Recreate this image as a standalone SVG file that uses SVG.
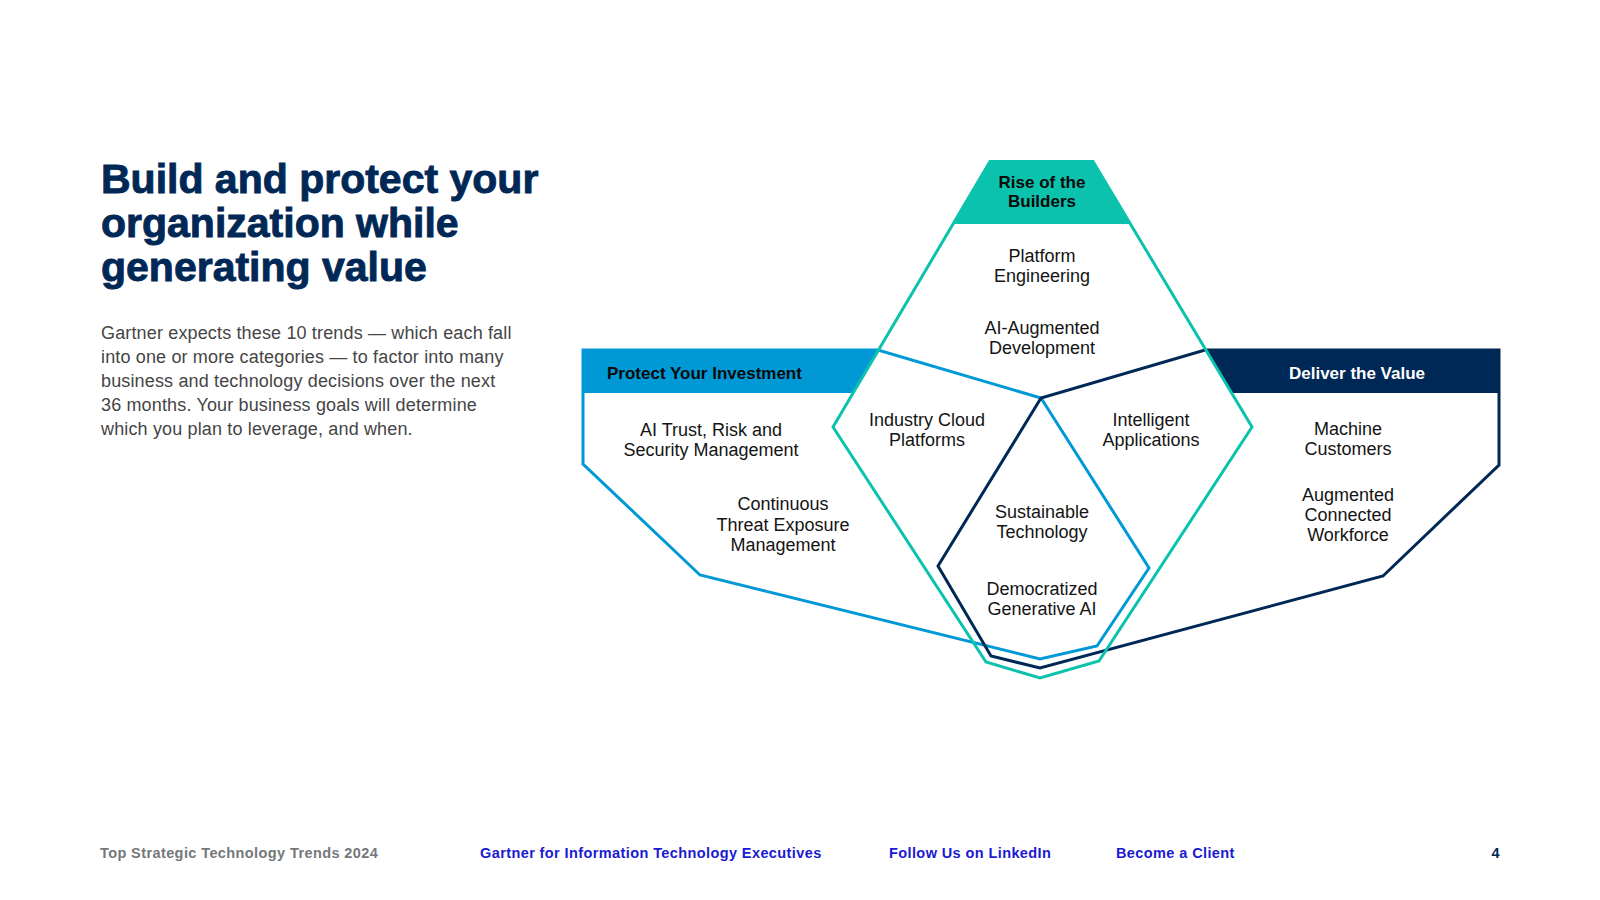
<svg xmlns="http://www.w3.org/2000/svg" width="1600" height="900" viewBox="0 0 1600 900">
<style>
.title{font-family:"Liberation Sans",Arial,sans-serif;font-weight:700;font-size:41px;fill:#002856;stroke:#002856;stroke-width:0.9}
.body{font-family:"Liberation Sans",Arial,sans-serif;font-size:18px;letter-spacing:0.15px;fill:#454545}
.trend{font-family:"Liberation Sans",Arial,sans-serif;font-size:18px;fill:#141414;text-anchor:middle}
.head{font-family:"Liberation Sans",Arial,sans-serif;font-weight:700;font-size:17px;fill:#0a0a0a}
.foot{font-family:"Liberation Sans",Arial,sans-serif;font-weight:700;font-size:14.5px;letter-spacing:0.4px}
.outline{fill:none;stroke-width:3;stroke-linejoin:miter}
</style>
<rect width="1600" height="900" fill="#ffffff"/>
<g id="intro">
<text class="title" x="101" y="193">Build and protect your</text>
<text class="title" x="101" y="237">organization while</text>
<text class="title" x="101" y="281">generating value</text>
<text class="body" x="101" y="338.5">Gartner expects these 10 trends — which each fall</text>
<text class="body" x="101" y="362.7">into one or more categories — to factor into many</text>
<text class="body" x="101" y="386.9">business and technology decisions over the next</text>
<text class="body" x="101" y="411.1">36 months. Your business goals will determine</text>
<text class="body" x="101" y="435.3">which you plan to leverage, and when.</text>
</g>
<g id="header-fills">
<polygon points="583,350 878,350 853,393 583,393" fill="#0099d6"/>
<polygon points="990,161 1093,161 1131,224 952,224" fill="#0bc2ad"/>
<polygon points="1499,350 1205,350 1231,393 1499,393" fill="#002856"/>
</g>
<g id="protect-your-investment">
<polygon class="outline" stroke="#0099d6" points="583,350 878,350 1041,398 1149,568 1097,646 1040,659 700,575 583,464"/>
<text class="head" x="607" y="379">Protect Your Investment</text>
</g>
<g id="deliver-the-value">
<polygon class="outline" stroke="#002856" points="1499,350 1205,350 1041,398 938,566 991,656 1040,668 1383,576 1499,465"/>
<text class="head" x="1357" y="379" text-anchor="middle" style="fill:#ffffff">Deliver the Value</text>
</g>
<g id="rise-of-the-builders">
<polygon class="outline" stroke="#0bc2ad" points="990,161.5 1093,161.5 1252,427 1099,661 1040,678 986,662 833,427"/>
<text class="head" x="1042" y="188" text-anchor="middle">Rise of the</text>
<text class="head" x="1042" y="207" text-anchor="middle">Builders</text>
</g>
<g id="platform-engineering"><text class="trend" x="1042" y="262">Platform</text><text class="trend" x="1042" y="282">Engineering</text></g>
<g id="ai-augmented-development"><text class="trend" x="1042" y="334">AI-Augmented</text><text class="trend" x="1042" y="354">Development</text></g>
<g id="ai-trism"><text class="trend" x="711" y="436">AI Trust, Risk and</text><text class="trend" x="711" y="456">Security Management</text></g>
<g id="ctem"><text class="trend" x="783" y="510">Continuous</text><text class="trend" x="783" y="531">Threat Exposure</text><text class="trend" x="783" y="551">Management</text></g>
<g id="industry-cloud"><text class="trend" x="927" y="426">Industry Cloud</text><text class="trend" x="927" y="446">Platforms</text></g>
<g id="intelligent-applications"><text class="trend" x="1151" y="426">Intelligent</text><text class="trend" x="1151" y="446">Applications</text></g>
<g id="machine-customers"><text class="trend" x="1348" y="435">Machine</text><text class="trend" x="1348" y="455">Customers</text></g>
<g id="augmented-workforce"><text class="trend" x="1348" y="501">Augmented</text><text class="trend" x="1348" y="521">Connected</text><text class="trend" x="1348" y="541">Workforce</text></g>
<g id="sustainable-technology"><text class="trend" x="1042" y="518">Sustainable</text><text class="trend" x="1042" y="538">Technology</text></g>
<g id="democratized-genai"><text class="trend" x="1042" y="595">Democratized</text><text class="trend" x="1042" y="615">Generative AI</text></g>
<g id="footer">
<text class="foot" x="100" y="858" fill="#75787b">Top Strategic Technology Trends 2024</text>
<text class="foot" x="480" y="858" fill="#1a1ad2">Gartner for Information Technology Executives</text>
<text class="foot" x="889" y="858" fill="#1a1ad2">Follow Us on LinkedIn</text>
<text class="foot" x="1116" y="858" fill="#1a1ad2">Become a Client</text>
<text class="foot" x="1500" y="858" fill="#002856" text-anchor="end">4</text>
</g>
</svg>
